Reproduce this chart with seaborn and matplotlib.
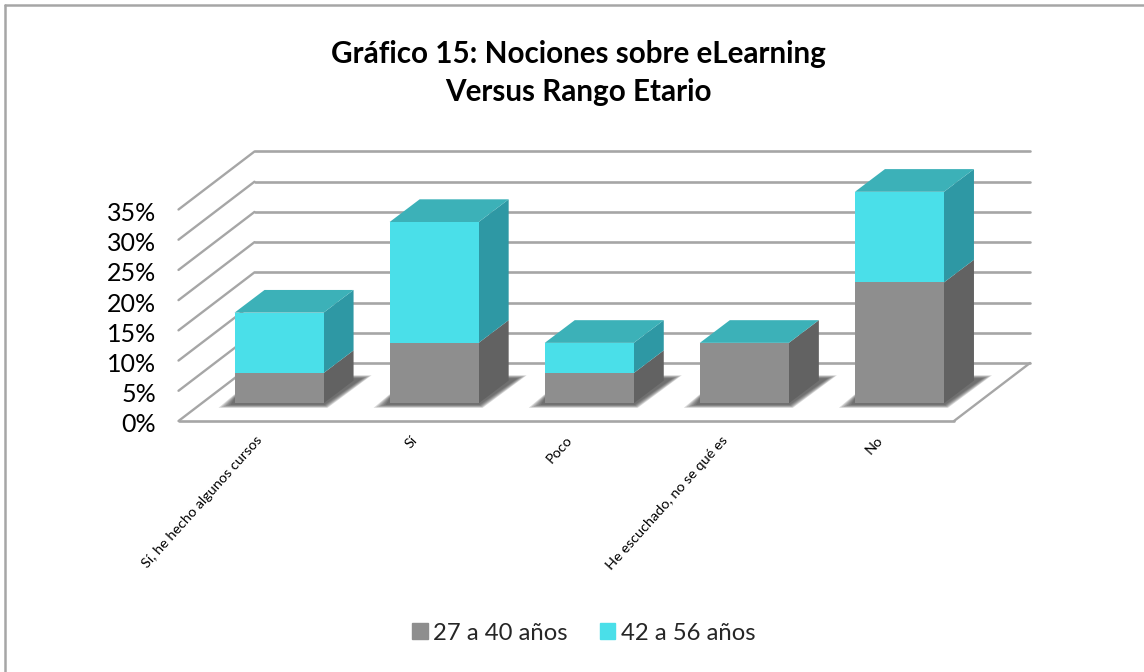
import numpy as np
import pandas as pd
import seaborn as sns
import matplotlib.pyplot as plt
from matplotlib.lines import Line2D
from matplotlib.patches import Polygon, Rectangle
from matplotlib.transforms import IdentityTransform, ScaledTranslation

categories = ["Sí, he hecho algunos cursos", "Sí", "Poco", "He escuchado, no se qué es", "No"]
grupo_27_40 = [5, 10, 5, 10, 20]
grupo_42_56 = [10, 20, 5, 0, 15]
series_names = ["27 a 40 años", "42 a 56 años"]
y_ticks = [0, 5, 10, 15, 20, 25, 30, 35]
title_text = "Gráfico 15: Nociones sobre eLearning\nVersus Rango Etario"

GRAY = "#8e8e8e"
GRAY_SIDE = "#626262"
CYAN = "#4adfe9"
CYAN_SIDE = "#2e98a4"
CYAN_TOP = "#3cb1b8"
GRID = "#a6a6a6"

W, H = 1144, 672
sns.set_theme(style="white")
plt.rcParams["font.family"] = ["Lato", "DejaVu Sans"]

fig = plt.figure(figsize=(W / 100, H / 100), dpi=100)
# the front plane of the fake 3D box sits at these pixels
left, right, base, top = 178.5, 954, 421, 209.5
ax = fig.add_axes([left / W, 1 - base / H, (right - left) / W, (base - top) / H])

df = pd.DataFrame({"cat": categories, "a": grupo_27_40, "b": grupo_42_56})
df["total"] = df["a"] + df["b"]

# stacked bars: total behind, lower group in front
sns.barplot(data=df, x="cat", y="total", color=CYAN, saturation=1, width=0.574, ax=ax, zorder=5)
sns.barplot(data=df, x="cat", y="a", color=GRAY, saturation=1, width=0.574, ax=ax, zorder=6)
ax.set_xlim(-0.5, 4.5)
ax.set_ylim(0, 35)
ax.patch.set_alpha(0)
sns.despine(ax=ax, left=True, bottom=True)
ax.set_xlabel("")
ax.set_ylabel("")

px = IdentityTransform()
n = len(categories)
totals = list(ax.patches[:n])
lowers = list(ax.patches[n:])


def shifted(dx, dy):
    # offset in pixels from the front plane, y going up
    return ax.transData + ScaledTranslation(dx / 100, dy / 100, fig.dpi_scale_trans)


def face(points, color, z):
    ax.add_patch(Polygon(points, closed=True, transform=px, facecolor=color, edgecolor="none", zorder=z,
                         clip_on=False))


def pixel_line(p0, p1, z=1):
    ax.add_line(Line2D([p0[0], p1[0]], [p0[1], p1[1]], transform=px, color=GRID, lw=1.7, clip_on=False, zorder=z))


# walls and floor
back = shifted(76, 58)
for v in y_ticks:
    ax.add_line(Line2D([-0.5, 4.5], [v, v], transform=back, color=GRID, lw=1.9, clip_on=False, zorder=1))
    pixel_line(ax.transData.transform((-0.5, v)), back.transform((-0.5, v)))
ax.add_line(Line2D([-0.5, 4.5], [0, 0], color=GRID, lw=1.9, clip_on=False, zorder=2))
pixel_line(ax.transData.transform((4.5, 0)), back.transform((4.5, 0)), 2)

# bars move back into the box, then get their side and top faces
off_x, off_y = 23, 17.7
dep_x, dep_y = 30, 22.7
bar_shift = ScaledTranslation(off_x / 100, off_y / 100, fig.dpi_scale_trans)
for bar in totals + lowers:
    bar.set_transform(ax.transData + bar_shift)
    bar.set_clip_on(False)
    bar.set_edgecolor("none")

for tot, low in zip(totals, lowers):
    x0, x1 = tot.get_x(), tot.get_x() + tot.get_width()
    a0 = ax.transData.transform((x0, 0)) + (off_x, off_y)
    a1 = ax.transData.transform((x1, 0)) + (off_x, off_y)
    h_low = ax.transData.transform((x1, low.get_height()))[1] + off_y
    h_tot = ax.transData.transform((x1, tot.get_height()))[1] + off_y
    l, r, b = a0[0], a1[0], a1[1]
    # soft shadow on the floor, stacked layers
    for k in range(6):
        g = 1.5 * k
        face([(l - 16 + 1.6 * g, b - 4.5 + g * 0.4), (r + 4 - g * 0.4, b - 4.5 + g * 0.4),
              (r + 48 - 1.2 * g, b + 28 - g * 0.4), (r + dep_x, b + 28 - g * 0.4), (l, b + 9 - g * 0.5)],
             (0.25, 0.25, 0.25, 0.2), 3)
    # sides
    face([(r, b), (r + dep_x, b + dep_y), (r + dep_x, h_low + dep_y), (r, h_low)], GRAY_SIDE, 4)
    if tot.get_height() > low.get_height():
        face([(r, h_low), (r + dep_x, h_low + dep_y), (r + dep_x, h_tot + dep_y), (r, h_tot)], CYAN_SIDE, 4)
    # top
    face([(l, h_tot), (r, h_tot), (r + dep_x, h_tot + dep_y), (l + dep_x, h_tot + dep_y)], CYAN_TOP, 4)

# axes text
ax.set_yticks(y_ticks)
ax.set_yticklabels([f"{v}%" for v in y_ticks], fontsize=18, color="black")
ax.tick_params(axis="y", length=0, pad=16)
for lab in ax.get_yticklabels():
    lab.set_transform(lab.get_transform() + ScaledTranslation(0, -2 / 100, fig.dpi_scale_trans))
ax.set_xticks(range(n))
ax.set_xticklabels([])
for i, name in enumerate(categories):
    ax.annotate(name, xy=(i, 0), xycoords="data", xytext=(4, -17), textcoords="offset pixels",
                rotation=48, rotation_mode="anchor", ha="right", va="center", fontsize=10.4, color="black",
                annotation_clip=False)

fig.text(578 / W, 1 - 73 / H, title_text, ha="center", va="center", fontsize=21.3, fontweight="bold",
         color="black", linespacing=1.4)

# legend
handles = [Rectangle((0, 0), 1, 1, color=GRAY), Rectangle((0, 0), 1, 1, color=CYAN)]
fig.legend(handles, series_names, loc="center", bbox_to_anchor=(584 / W, 1 - 633 / H), ncol=2, frameon=False,
           fontsize=17.2, handlelength=0.63, handleheight=0.63, handletextpad=0.25, columnspacing=1.34)

# only top and left edges of the chart frame show
fig.add_artist(Line2D([5 / W, 5 / W], [0, 1 - 5 / H], transform=fig.transFigure, color=GRID, lw=1.8))
fig.add_artist(Line2D([5 / W, 1], [1 - 5 / H, 1 - 5 / H], transform=fig.transFigure, color=GRID, lw=1.8))

fig.savefig("out.png", dpi=100)
